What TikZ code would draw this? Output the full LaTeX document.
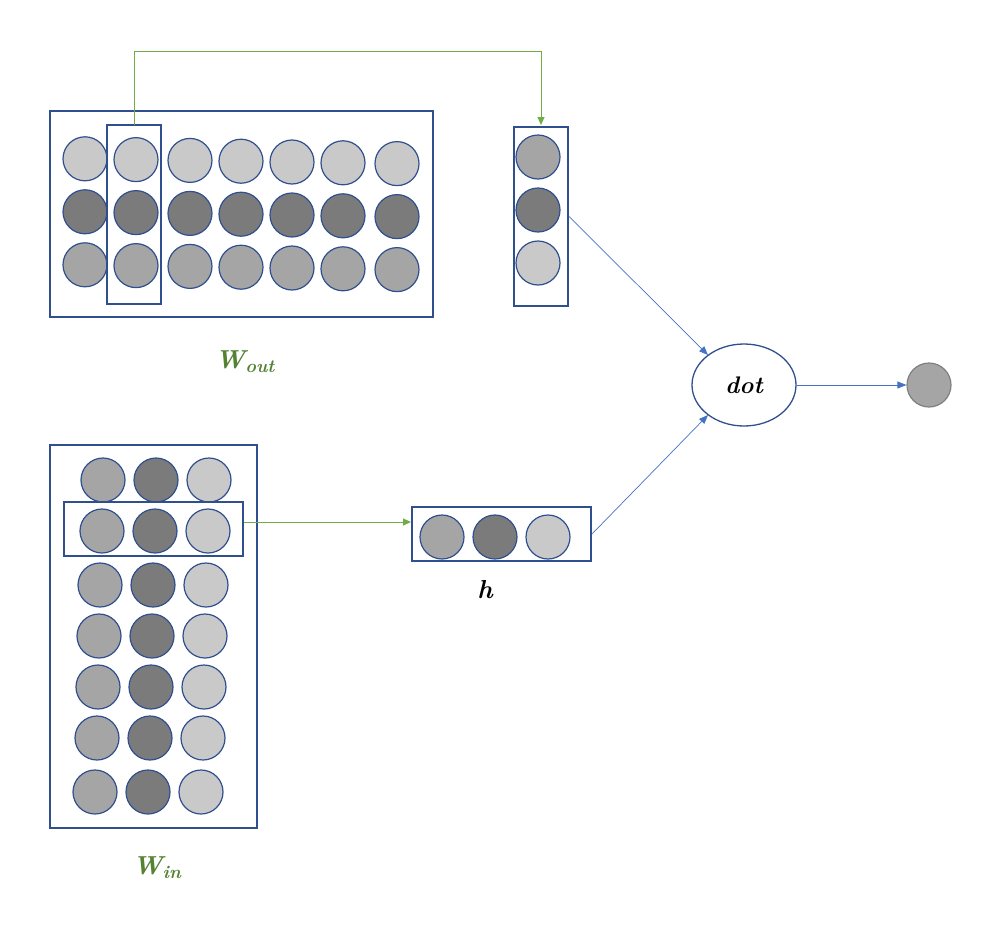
\documentclass[tikz,border=0pt]{standalone}
\usetikzlibrary{arrows.meta,shapes.geometric}
\begin{document}
\begin{tikzpicture}[x=1pt,y=-1pt,
 cl/.style={circle,draw=frame,line width=1.2pt,minimum size=44pt,inner sep=0pt,fill=#1},
 box/.style={draw=frame,line width=1.3pt},
 thick box/.style={draw=frame,line width=2pt},
 garr/.style={draw=grn,line width=1pt,-{Triangle[length=8pt,width=7pt]}},
 barr/.style={draw=blu,line width=0.7pt,-{Triangle[length=9pt,width=7pt]}},
 lab/.style={text=lgrn,font=\bfseries\itshape\fontsize{26}{28}\selectfont}]
\definecolor{frame}{HTML}{2F4F8F}\definecolor{lt}{HTML}{C9C9C9}\definecolor{dk}{HTML}{7B7B7B}
\definecolor{md}{HTML}{A5A5A5}\definecolor{grn}{HTML}{70AD47}\definecolor{lgrn}{HTML}{548235}
\definecolor{blu}{HTML}{4472C4}
\useasboundingbox (0,0) rectangle (1001,926);
% W_out
\node[box,minimum width=383pt,minimum height=206pt] (wout) at (241.5,214) {};
\foreach \x/\i in {85/1,136/2,190/3,241/4,292/5,343/6,397/7}{
 \node[cl=lt] (o1\i) at (\x,158+\i*0.8) {};
 \node[cl=dk] (o2\i) at (\x,211+\i*0.8) {};
 \node[cl=md] (o3\i) at (\x,264+\i*0.8) {};}
\node[thick box,minimum width=54pt,minimum height=179pt] (ocol) at (134,214.5) {};
\node[lab] (lout) at (245,362) {W\textsubscript{out}};
% column vector
\node[thick box,minimum width=54pt,minimum height=179pt] (vcol) at (541,216.5) {};
\node[cl=md] (v1) at (538,157) {};
\node[cl=dk] (v2) at (538,210) {};
\node[cl=lt] (v3) at (538,263) {};
\coordinate (gs) at (134,125);\coordinate (ge) at (541,125);
\draw[garr] (gs) -- (134,51) -- (541,51) -- (ge);
% dot
\node[ellipse,draw=frame,line width=1.3pt,minimum width=104pt,minimum height=82pt,font=\bfseries\itshape\fontsize{24}{26}\selectfont] (dot) at (744,385) {dot};
\node[circle,draw=gray,line width=1.2pt,fill=md,minimum size=44pt,inner sep=0pt] (out) at (929,385) {};
\draw[barr] (vcol.east) -- (708,355);
\draw[barr] (dot.east) -- (out.west);
% W_in
\node[box,minimum width=207pt,minimum height=383pt] (win) at (153.5,636.5) {};
\foreach \y/\x/\i in {480/103/1,531/102/2,585/100/3,636/99/4,687/98/5,738/97/6,792/95/7}{
 \node[cl=md] (a\i) at (\x,\y) {};
 \node[cl=dk] (b\i) at (\x+53,\y) {};
 \node[cl=lt] (c\i) at (\x+106,\y) {};}
\node[thick box,minimum width=179pt,minimum height=54pt] (irow) at (153.5,529) {};
\node[lab] (lin) at (157,868) {W\textsubscript{in}};
% h
\node[thick box,minimum width=179pt,minimum height=54pt] (h) at (501.5,534) {};
\node[cl=md] (h1) at (442,537) {};
\node[cl=dk] (h2) at (495,537) {};
\node[cl=lt] (h3) at (548,537) {};
\node[font=\bfseries\itshape\fontsize{26}{28}\selectfont] (hl) at (485,590) {h};
\draw[garr] (irow.east |- 0,522) -- (h.west |- 0,522);
\draw[barr] (h.east) -- (708,415);
\end{tikzpicture}
\end{document}
